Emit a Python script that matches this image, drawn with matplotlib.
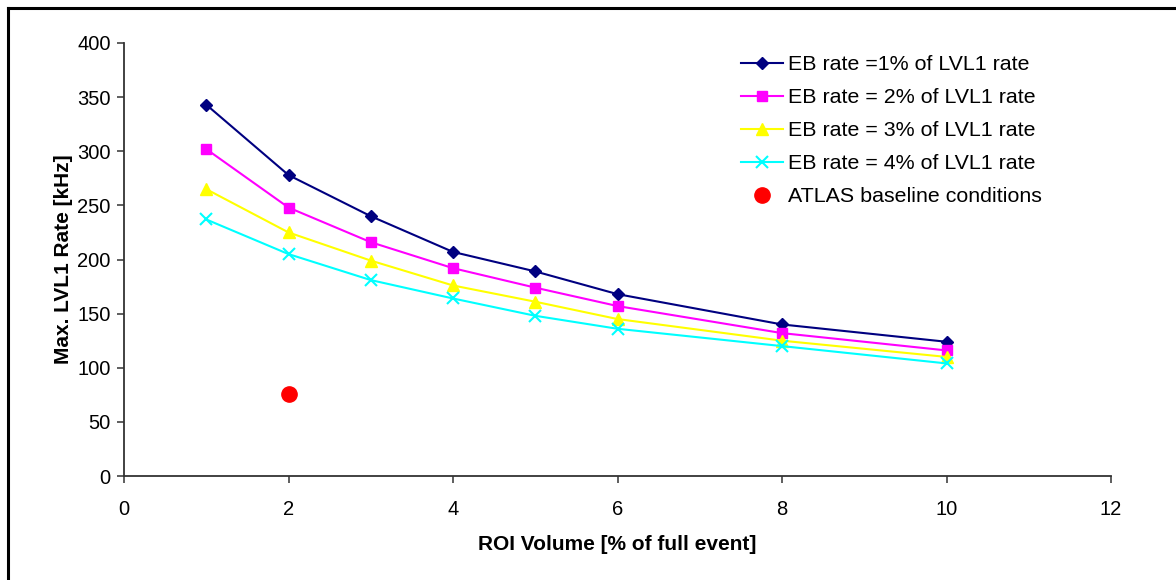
import matplotlib.pyplot as plt
from matplotlib.lines import Line2D

plt.rcParams["font.family"] = ["Liberation Sans", "DejaVu Sans"]

# ROI volume [% of full event]
roi_volume = [1, 2, 3, 4, 5, 6, 8, 10]

# max LVL1 rate [kHz] for each event-building rate
eb_1pct = [343, 278, 240, 207, 189, 168, 140, 124]
eb_2pct = [302, 248, 216, 192, 174, 157, 132, 116]
eb_3pct = [265, 225, 199, 176, 161, 145, 125, 110]
eb_4pct = [237, 205, 181, 164, 148, 136, 120, 104]

baseline_x = [2]
baseline_y = [76]

series_labels = [
    "EB rate =1% of LVL1 rate",
    "EB rate = 2% of LVL1 rate",
    "EB rate = 3% of LVL1 rate",
    "EB rate = 4% of LVL1 rate",
]
baseline_label = "ATLAS baseline conditions"

W, H = 1176, 580
fig = plt.figure(figsize=(W / 100, H / 100), dpi=100)
ax = fig.add_axes([124 / W, 1 - 476 / H, (1111 - 124) / W, (476 - 43) / H])

ax.plot(roi_volume, eb_1pct, color="#000080", marker="D", markersize=6, lw=1.5, label=series_labels[0])
ax.plot(roi_volume, eb_2pct, color="#ff00ff", marker="s", markersize=7, lw=1.5, label=series_labels[1])
ax.plot(roi_volume, eb_3pct, color="#ffff00", marker="^", markersize=8, lw=1.5, label=series_labels[2])
ax.plot(roi_volume, eb_4pct, color="#00ffff", marker="x", markersize=8, mew=1.5, lw=1.5, label=series_labels[3])
ax.plot(baseline_x, baseline_y, ls="none", marker="o", color="#ff0000", markersize=11, label=baseline_label)

ax.set_xlim(0, 12)
ax.set_ylim(0, 400)
ax.set_xticks(range(0, 13, 2))
ax.set_yticks(range(0, 401, 50))

for side in ["top", "right"]:
    ax.spines[side].set_visible(False)
for side in ["left", "bottom"]:
    ax.spines[side].set_color("#333333")
    ax.spines[side].set_linewidth(1.3)
ax.tick_params(direction="out", length=5, width=1.1, color="#333333", labelsize=14.5)
ax.tick_params(axis="x", pad=12)
ax.tick_params(axis="y", pad=4.5)

ax.set_xlabel("ROI Volume [% of full event]", fontsize=15, fontweight="bold", labelpad=12)
ax.set_ylabel("Max. LVL1 Rate [kHz]", fontsize=15, fontweight="bold", labelpad=3)

ax.legend(loc="upper left", bbox_to_anchor=(741 / W, 1 - 55 / H), bbox_transform=fig.transFigure,
          frameon=False, fontsize=15.4, borderpad=0, borderaxespad=0,
          handlelength=1.96, labelspacing=0.66, handletextpad=0.25)

# outer frame around the chart
fig.add_artist(Line2D([8 / W, 8 / W], [0, 1 - 8 / H], transform=fig.transFigure, color="black", lw=2.2))
fig.add_artist(Line2D([8 / W, 1], [1 - 8 / H, 1 - 8 / H], transform=fig.transFigure, color="black", lw=2.2))

plt.savefig("out.png", dpi=100)
